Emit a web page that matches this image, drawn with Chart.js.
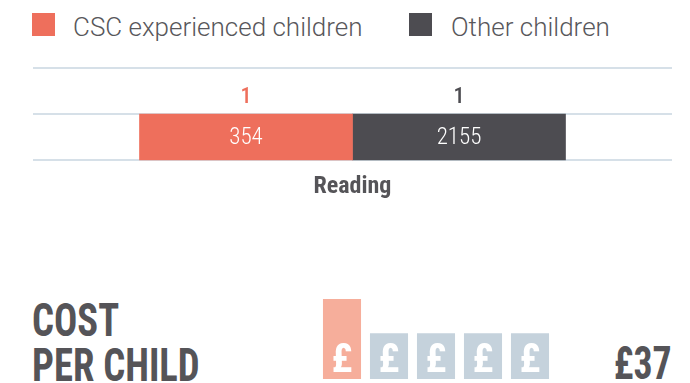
<!DOCTYPE html>
<html>
<head>
<meta charset="utf-8">
<script src="https://cdn.jsdelivr.net/npm/chart.js@4/dist/chart.umd.min.js"></script>
<style>
  html, body { margin: 0; padding: 0; background: #fff; }
  body { width: 690px; height: 383px; position: relative; overflow: hidden;
         font-family: "Roboto Condensed", "Liberation Sans Narrow", "DejaVu Sans Condensed", sans-serif; color: #555458; }
  #main { position: absolute; left: 0; top: 0; }
  #cost { position: absolute; left: 300px; top: 290px; }
  .sq { position: absolute; top: 13px; width: 23px; height: 23px; }
  .lt { position: absolute; top: 14px; font-family: Roboto, "Liberation Sans", sans-serif; font-size: 26px; line-height: 26px;
        font-weight: 300; color: #58575b; white-space: nowrap; }
  .title { position: absolute; left: 32px; top: 298px; font-size: 46px; font-weight: 700; line-height: 45px; color: #555458;
           transform: scaleX(0.84); transform-origin: 0 0; white-space: nowrap; }
  .price { position: absolute; right: 18px; top: 338px; font-size: 46px; font-weight: 700; line-height: 50px; color: #555458;
           transform: scaleX(0.82); transform-origin: 100% 0; }
</style>
</head>
<body>
<div class="sq" style="left:32px;background:#ee6f5c"></div>
<div class="lt" style="left:73px">CSC experienced children</div>
<div class="sq" style="left:409px;background:#4d4c51"></div>
<div class="lt" style="left:451px">Other children</div>
<canvas id="main" width="690" height="230"></canvas>
<canvas id="cost" width="280" height="93"></canvas>
<div class="title">COST<br>PER CHILD</div>
<div class="price">£37</div>
<script>
const FONT = '"Roboto Condensed", "Liberation Sans Narrow", "DejaVu Sans Condensed", sans-serif';

// Outcome row
const categories = ['Reading'];
const seriesNames = ['CSC experienced children', 'Other children'];
const cscValues = [1];
const otherValues = [1];
const cscCounts = [354];
const otherCounts = [2155];
const seriesColors = ['#ee6f5c', '#4d4c51'];

// Cost indicator
const costLabels = ['£', '£', '£', '£', '£'];
const costScale = [1.75, 1, 1, 1, 1];
const costColors = ['#f6ae9b', '#c5d2dc', '#c5d2dc', '#c5d2dc', '#c5d2dc'];

const rulesAndLabels = {
  id: 'rulesAndLabels',
  beforeDatasetsDraw(chart) {
    const ctx = chart.ctx, area = chart.chartArea;
    const bar = chart.getDatasetMeta(0).data[0];
    const top = bar.y - bar.height / 2, bottom = bar.y + bar.height / 2;
    ctx.save();
    ctx.strokeStyle = '#c9d6e1';
    ctx.lineWidth = 1.5;
    [area.top, top, bottom].forEach(y => {
      ctx.beginPath();
      ctx.moveTo(area.left, y);
      ctx.lineTo(area.right, y);
      ctx.stroke();
    });
    ctx.restore();
  },
  afterDatasetsDraw(chart) {
    const ctx = chart.ctx, area = chart.chartArea;
    const counts = [cscCounts, otherCounts];
    ctx.save();
    ctx.textAlign = 'center';
    chart.data.datasets.forEach((ds, i) => {
      chart.getDatasetMeta(i).data.forEach((bar, j) => {
        const cx = (bar.x + bar.base) / 2;
        const top = bar.y - bar.height / 2;
        ctx.fillStyle = seriesColors[i];
        ctx.font = '500 22px ' + FONT;
        ctx.textBaseline = 'alphabetic';
        ctx.fillText(String(ds.data[j]), cx, top - 11);
        ctx.fillStyle = '#ffffff';
        ctx.font = '300 23px ' + FONT;
        ctx.textBaseline = 'middle';
        ctx.fillText(String(counts[i][j]), cx, bar.y + 1);
      });
    });
    const bar = chart.getDatasetMeta(0).data[0];
    ctx.fillStyle = '#555458';
    ctx.font = '700 24px ' + FONT;
    ctx.textBaseline = 'alphabetic';
    ctx.fillText(categories[0], (area.left + area.right) / 2, bar.y + bar.height / 2 + 33);
    ctx.restore();
  }
};

new Chart(document.getElementById('main'), {
  type: 'bar',
  data: {
    labels: categories,
    datasets: [
      { label: seriesNames[0], data: cscValues, backgroundColor: seriesColors[0] },
      { label: seriesNames[1], data: otherValues, backgroundColor: seriesColors[1] }
    ]
  },
  options: {
    indexAxis: 'y',
    responsive: false,
    animation: false,
    events: [],
    barThickness: 46,
    layout: { padding: { left: 33, right: 18, top: 68, bottom: 24 } },
    scales: {
      x: { stacked: true, min: -0.5, max: 2.5, display: false },
      y: { stacked: true, display: false }
    },
    plugins: { legend: { display: false }, tooltip: { enabled: false } }
  },
  plugins: [rulesAndLabels]
});

const poundMarks = {
  id: 'poundMarks',
  afterDatasetsDraw(chart) {
    const ctx = chart.ctx;
    ctx.save();
    ctx.fillStyle = '#ffffff';
    ctx.font = '700 40px ' + FONT;
    ctx.textAlign = 'center';
    ctx.textBaseline = 'alphabetic';
    chart.getDatasetMeta(0).data.forEach((bar, i) => {
      ctx.fillText(costLabels[i], bar.x, bar.base - 7);
    });
    ctx.restore();
  }
};

new Chart(document.getElementById('cost'), {
  type: 'bar',
  data: {
    labels: costLabels.map((l, i) => l + i),
    datasets: [{ data: costScale, backgroundColor: costColors, categoryPercentage: 1, barPercentage: 0.81 }]
  },
  options: {
    responsive: false,
    animation: false,
    events: [],
    layout: { padding: { left: 18.5, right: 26.5, top: 9, bottom: 4 } },
    scales: {
      x: { display: false },
      y: { display: false, min: 0, max: 1.75 }
    },
    plugins: { legend: { display: false }, tooltip: { enabled: false } }
  },
  plugins: [poundMarks]
});
</script>
</body>
</html>
